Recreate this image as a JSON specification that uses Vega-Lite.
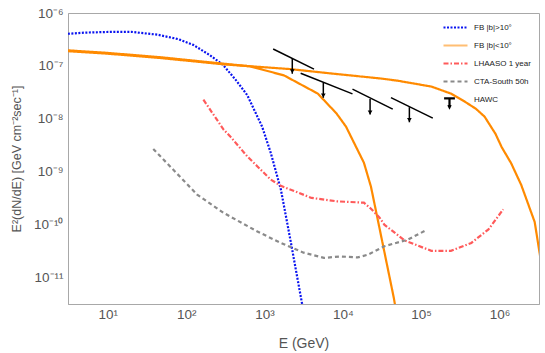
{
  "$schema": "https://vega.github.io/schema/vega-lite/v6.json",
  "width": 471,
  "height": 291,
  "autosize": {"type": "none"},
  "padding": {"left": 68, "top": 13, "right": 6, "bottom": 49},
  "background": "white",
  "config": {
    "view": {"stroke": "#a8a8a8", "strokeWidth": 1},
    "font": "Liberation Sans",
    "axis": {"grid": false, "domainColor": "#a8a8a8", "tickColor": "#a8a8a8", "labelColor": "#555555", "titleColor": "#555555", "labelFont": "Liberation Sans", "titleFont": "Liberation Sans", "labelFontSize": 13.5, "titleFontSize": 14, "titleFontWeight": "normal", "labelOverlap": false, "labelFlush": false, "labelBound": false}
  },
  "datasets": {
    "curves": [
      {"s": "FB |b|>10°", "c": "b", "E": 3.09, "v": 4.05e-7},
      {"s": "FB |b|>10°", "c": "b", "E": 5, "v": 4.25e-7},
      {"s": "FB |b|>10°", "c": "b", "E": 10.7, "v": 4.4e-7},
      {"s": "FB |b|>10°", "c": "b", "E": 20, "v": 4.4e-7},
      {"s": "FB |b|>10°", "c": "b", "E": 42.7, "v": 3.9e-7},
      {"s": "FB |b|>10°", "c": "b", "E": 80, "v": 3.2e-7},
      {"s": "FB |b|>10°", "c": "b", "E": 123, "v": 2.5e-7},
      {"s": "FB |b|>10°", "c": "b", "E": 200, "v": 1.6e-7},
      {"s": "FB |b|>10°", "c": "b", "E": 295, "v": 1.05e-7},
      {"s": "FB |b|>10°", "c": "b", "E": 427, "v": 5.5e-8},
      {"s": "FB |b|>10°", "c": "b", "E": 603, "v": 2.8e-8},
      {"s": "FB |b|>10°", "c": "b", "E": 933, "v": 7.1e-9},
      {"s": "FB |b|>10°", "c": "b", "E": 1200, "v": 2.3e-9},
      {"s": "FB |b|>10°", "c": "b", "E": 1620, "v": 4.6e-10},
      {"s": "FB |b|>10°", "c": "b", "E": 2140, "v": 5.2e-11},
      {"s": "FB |b|>10°", "c": "b", "E": 3020, "v": 3.2e-12},
      {"s": "FB |b|>10°", "c": "b", "E": 3300, "v": 1.5e-12},
      {"s": "FB |b|<10°", "c": "o1", "E": 3.09, "v": 1.9e-7},
      {"s": "FB |b|<10°", "c": "o1", "E": 10, "v": 1.7e-7},
      {"s": "FB |b|<10°", "c": "o1", "E": 46.8, "v": 1.41e-7},
      {"s": "FB |b|<10°", "c": "o1", "E": 302, "v": 1.07e-7},
      {"s": "FB |b|<10°", "c": "o1", "E": 2140, "v": 8.7e-8},
      {"s": "FB |b|<10°", "c": "o1", "E": 7080, "v": 7.2e-8},
      {"s": "FB |b|<10°", "c": "o1", "E": 31600, "v": 5.75e-8},
      {"s": "FB |b|<10°", "c": "o1", "E": 50100, "v": 5.25e-8},
      {"s": "FB |b|<10°", "c": "o1", "E": 135000, "v": 4.07e-8},
      {"s": "FB |b|<10°", "c": "o1", "E": 240000, "v": 3.0e-8},
      {"s": "FB |b|<10°", "c": "o1", "E": 363000, "v": 2.1e-8},
      {"s": "FB |b|<10°", "c": "o1", "E": 500000, "v": 1.55e-8},
      {"s": "FB |b|<10°", "c": "o1", "E": 646000, "v": 1.1e-8},
      {"s": "FB |b|<10°", "c": "o1", "E": 890000, "v": 5.2e-9},
      {"s": "FB |b|<10°", "c": "o1", "E": 1070000, "v": 2.9e-9},
      {"s": "FB |b|<10°", "c": "o1", "E": 1410000, "v": 1.45e-9},
      {"s": "FB |b|<10°", "c": "o1", "E": 1900000, "v": 5.6e-10},
      {"s": "FB |b|<10°", "c": "o1", "E": 2820000, "v": 1.12e-10},
      {"s": "FB |b|<10°", "c": "o1", "E": 3390000, "v": 2.0e-11},
      {"s": "FB |b|<10°", "c": "o2", "E": 3.09, "v": 1.97e-7},
      {"s": "FB |b|<10°", "c": "o2", "E": 10, "v": 1.76e-7},
      {"s": "FB |b|<10°", "c": "o2", "E": 46.8, "v": 1.46e-7},
      {"s": "FB |b|<10°", "c": "o2", "E": 302, "v": 1.1e-7},
      {"s": "FB |b|<10°", "c": "o2", "E": 661, "v": 9.8e-8},
      {"s": "FB |b|<10°", "c": "o2", "E": 1780, "v": 6.6e-8},
      {"s": "FB |b|<10°", "c": "o2", "E": 4790, "v": 3.0e-8},
      {"s": "FB |b|<10°", "c": "o2", "E": 8320, "v": 1.26e-8},
      {"s": "FB |b|<10°", "c": "o2", "E": 11000, "v": 7.1e-9},
      {"s": "FB |b|<10°", "c": "o2", "E": 18600, "v": 1.48e-9},
      {"s": "FB |b|<10°", "c": "o2", "E": 22900, "v": 5.2e-10},
      {"s": "FB |b|<10°", "c": "o2", "E": 28800, "v": 1.0e-10},
      {"s": "FB |b|<10°", "c": "o2", "E": 44700, "v": 4.2e-12},
      {"s": "FB |b|<10°", "c": "o2", "E": 50100, "v": 1.6e-12},
      {"s": "LHAASO 1 year", "c": "r", "E": 166, "v": 2.3e-8},
      {"s": "LHAASO 1 year", "c": "r", "E": 302, "v": 6.2e-9},
      {"s": "LHAASO 1 year", "c": "r", "E": 363, "v": 4.7e-9},
      {"s": "LHAASO 1 year", "c": "r", "E": 603, "v": 1.95e-9},
      {"s": "LHAASO 1 year", "c": "r", "E": 813, "v": 1.26e-9},
      {"s": "LHAASO 1 year", "c": "r", "E": 1200, "v": 7.1e-10},
      {"s": "LHAASO 1 year", "c": "r", "E": 1620, "v": 5.4e-10},
      {"s": "LHAASO 1 year", "c": "r", "E": 2510, "v": 4.2e-10},
      {"s": "LHAASO 1 year", "c": "r", "E": 3980, "v": 3.2e-10},
      {"s": "LHAASO 1 year", "c": "r", "E": 8510, "v": 2.75e-10},
      {"s": "LHAASO 1 year", "c": "r", "E": 18600, "v": 2.6e-10},
      {"s": "LHAASO 1 year", "c": "r", "E": 22900, "v": 2.0e-10},
      {"s": "LHAASO 1 year", "c": "r", "E": 29500, "v": 1.35e-10},
      {"s": "LHAASO 1 year", "c": "r", "E": 33900, "v": 1.0e-10},
      {"s": "LHAASO 1 year", "c": "r", "E": 61700, "v": 5.0e-11},
      {"s": "LHAASO 1 year", "c": "r", "E": 135000, "v": 3.2e-11},
      {"s": "LHAASO 1 year", "c": "r", "E": 240000, "v": 3.2e-11},
      {"s": "LHAASO 1 year", "c": "r", "E": 437000, "v": 4.5e-11},
      {"s": "LHAASO 1 year", "c": "r", "E": 724000, "v": 8.1e-11},
      {"s": "LHAASO 1 year", "c": "r", "E": 1120000, "v": 1.95e-10},
      {"s": "CTA-South 50h", "c": "g", "E": 38, "v": 2.7e-9},
      {"s": "CTA-South 50h", "c": "g", "E": 83, "v": 8.1e-10},
      {"s": "CTA-South 50h", "c": "g", "E": 138, "v": 3.7e-10},
      {"s": "CTA-South 50h", "c": "g", "E": 302, "v": 1.66e-10},
      {"s": "CTA-South 50h", "c": "g", "E": 813, "v": 7.4e-11},
      {"s": "CTA-South 50h", "c": "g", "E": 1620, "v": 4.5e-11},
      {"s": "CTA-South 50h", "c": "g", "E": 3160, "v": 2.95e-11},
      {"s": "CTA-South 50h", "c": "g", "E": 5750, "v": 2.35e-11},
      {"s": "CTA-South 50h", "c": "g", "E": 9330, "v": 2.5e-11},
      {"s": "CTA-South 50h", "c": "g", "E": 15500, "v": 2.4e-11},
      {"s": "CTA-South 50h", "c": "g", "E": 20900, "v": 2.7e-11},
      {"s": "CTA-South 50h", "c": "g", "E": 33900, "v": 3.9e-11},
      {"s": "CTA-South 50h", "c": "g", "E": 67600, "v": 5.2e-11},
      {"s": "CTA-South 50h", "c": "g", "E": 115000, "v": 7.8e-11}
    ],
    "hawc": [
      {"s": "HAWC", "E": 1291, "v": 2.09e-7, "E2": 4285, "v2": 8.67e-8},
      {"s": "HAWC", "E": 2265, "v": 1.40e-7, "E2": 2265, "v2": 7.1e-8},
      {"s": "HAWC", "E": 2897, "v": 7.28e-8, "E2": 13300, "v2": 2.96e-8},
      {"s": "HAWC", "E": 5640, "v": 4.84e-8, "E2": 5640, "v2": 2.5e-8},
      {"s": "HAWC", "E": 13300, "v": 3.63e-8, "E2": 43400, "v2": 1.52e-8},
      {"s": "HAWC", "E": 22300, "v": 2.38e-8, "E2": 22300, "v2": 1.2e-8},
      {"s": "HAWC", "E": 41200, "v": 2.52e-8, "E2": 141000, "v2": 1.03e-8},
      {"s": "HAWC", "E": 70800, "v": 1.66e-8, "E2": 70800, "v2": 8.6e-9}
    ],
    "heads": [
      {"E": 2265, "v": 7.9e-8},
      {"E": 5640, "v": 2.75e-8},
      {"E": 22300, "v": 1.32e-8},
      {"E": 70800, "v": 9.5e-9}
    ]
  },
  "encoding": {
    "x": {
      "field": "E", "type": "quantitative",
      "scale": {"type": "log", "domain": [3.1, 3.2e6], "nice": false},
      "axis": {
        "title": "E (GeV)", "titlePadding": 16,
        "values": [4,5,6,7,8,9,10,20,30,40,50,60,70,80,90,100,200,300,400,500,600,700,800,900,1000,2000,3000,4000,5000,6000,7000,8000,9000,10000,20000,30000,40000,50000,60000,70000,80000,90000,100000,200000,300000,400000,500000,600000,700000,800000,900000,1000000,2000000,3000000],
        "labelExpr": "abs(log(datum.value)/LN10 - round(log(datum.value)/LN10)) < 0.001 ? '10' + ['⁰','¹','²','³','⁴','⁵','⁶','⁷'][round(log(datum.value)/LN10)] : ''",
        "tickSize": 0, "labelPadding": 3,
        "encode": {"ticks": {"update": {"y2": {"signal": "abs(log(datum.value)/LN10 - round(log(datum.value)/LN10)) < 0.001 ? -5 : -3"}}}}
      }
    },
    "y": {
      "field": "v", "type": "quantitative",
      "scale": {"type": "log", "domain": [3.16e-12, 1e-6], "nice": false},
      "axis": {
        "title": "E²(dN/dE) [GeV cm⁻²sec⁻¹]", "titlePadding": 10, "titleFontSize": 12.5,
        "values": [4e-12,5e-12,6e-12,7e-12,8e-12,9e-12,1e-11,2e-11,3e-11,4e-11,5e-11,6e-11,7e-11,8e-11,9e-11,1e-10,2e-10,3e-10,4e-10,5e-10,6e-10,7e-10,8e-10,9e-10,1e-9,2e-9,3e-9,4e-9,5e-9,6e-9,7e-9,8e-9,9e-9,1e-8,2e-8,3e-8,4e-8,5e-8,6e-8,7e-8,8e-8,9e-8,1e-7,2e-7,3e-7,4e-7,5e-7,6e-7,7e-7,8e-7,9e-7,1e-6],
        "labelExpr": "abs(log(datum.value)/LN10 - round(log(datum.value)/LN10)) < 0.001 ? '10⁻' + ['⁰','¹','²','³','⁴','⁵','⁶','⁷','⁸','⁹','¹⁰','¹¹','¹²'][-round(log(datum.value)/LN10)] : ''",
        "tickSize": 0, "labelPadding": 5,
        "encode": {"ticks": {"update": {"x2": {"signal": "abs(log(datum.value)/LN10 - round(log(datum.value)/LN10)) < 0.001 ? 5 : 3"}}}}
      }
    }
  },
  "layer": [
    {
      "data": {"name": "curves"},
      "mark": {"type": "line", "clip": true},
      "encoding": {
        "color": {
          "field": "s", "type": "nominal",
          "scale": {"domain": ["FB |b|>10°", "FB |b|<10°", "LHAASO 1 year", "CTA-South 50h", "HAWC"], "range": ["#0a14f0", "#ff8a00", "#ff5a5a", "#8a8a8a", "#000000"]},
          "legend": {
            "orient": "none", "legendX": 374, "legendY": 1, "title": null,
            "symbolType": "stroke", "symbolSize": 576, "symbolStrokeWidth": 1.2,
            "labelFont": "Liberation Sans", "labelFontSize": 8, "labelColor": "#222222",
            "labelOffset": 5, "rowPadding": -2, "padding": 0,
            "encode": {"symbols": {"update": {
              "shape": {"signal": "datum.value === 'HAWC' ? 'M-0.95,-0.1L-0.05,-0.1M-0.5,-0.1L-0.5,0.65M-0.6,0.45L-0.5,0.65L-0.4,0.45' : 'stroke'"},
              "strokeWidth": {"signal": "datum.value === 'FB |b|<10°' ? 4 : (datum.value === 'HAWC' ? 1 : 1.2)"},
              "opacity": {"signal": "datum.value === 'FB |b|<10°' ? 0.55 : 1"}
            }}}
          }
        },
        "strokeDash": {
          "field": "s", "type": "nominal",
          "scale": {"domain": ["FB |b|>10°", "FB |b|<10°", "LHAASO 1 year", "CTA-South 50h", "HAWC"], "range": [[2, 1.5], [1, 0], [5, 2, 1.5, 2], [4, 3], [1, 0]]}
        },
        "strokeWidth": {
          "field": "s", "type": "nominal", "legend": null,
          "scale": {"domain": ["FB |b|>10°", "FB |b|<10°", "LHAASO 1 year", "CTA-South 50h", "HAWC"], "range": [2.2, 2.2, 1.6, 1.6, 1.5]}
        },
        "detail": {"field": "c"}
      }
    },
    {
      "data": {"name": "hawc"},
      "mark": {"type": "rule", "strokeWidth": 1.5},
      "encoding": {
        "x2": {"field": "E2"},
        "y2": {"field": "v2"},
        "color": {"field": "s", "type": "nominal"}
      }
    },
    {
      "data": {"name": "heads"},
      "mark": {"type": "point", "shape": "triangle-down", "filled": true, "color": "#000000", "size": 22, "opacity": 1}
    }
  ]
}
